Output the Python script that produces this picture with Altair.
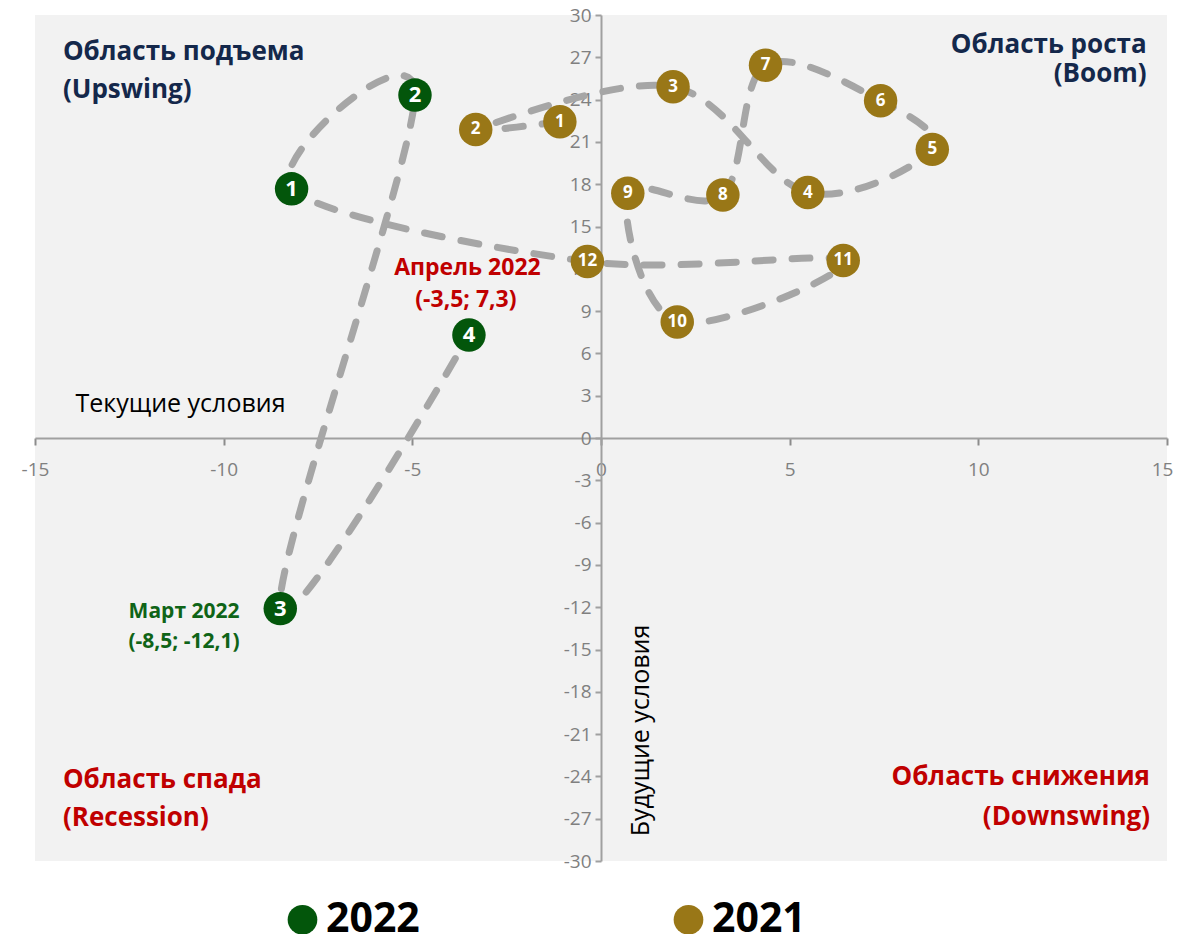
import altair as alt
import pandas as pd

# ---- data ----
months_2021 = [1, 2, 3, 4, 5, 6, 7, 8, 9, 10, 11, 12]
x_2021 = [-1.09, -3.32, 1.91, 5.48, 8.78, 7.41, 4.36, 3.23, 0.71, 2.02, 6.42, -0.36]
y_2021 = [22.43, 21.88, 24.91, 17.41, 20.47, 23.92, 26.44, 17.24, 17.36, 8.23, 12.59, 12.52]

months_2022 = [1, 2, 3, 4]
x_2022 = [-8.20, -4.93, -8.5, -3.5]
y_2022 = [17.67, 24.32, -12.1, 7.3]

x_ticks = [-15, -10, -5, 0, 5, 10, 15]
y_ticks = list(range(-30, 31, 3))

quad_text = ["Область подъема", "(Upswing)", "Область роста", "(Boom)",
             "Область спада", "(Recession)", "Область снижения", "(Downswing)"]
quad_x = [-14.26, -14.26, 14.46, 14.46, -14.26, -14.26, 14.55, 14.55]
quad_y = [27.38, 24.69, 27.86, 25.85, -24.27, -26.96, -24.04, -26.87]
quad_align = ["left", "left", "right", "right", "left", "left", "right", "right"]
quad_kind = ["up", "up", "up", "up", "down", "down", "down", "down"]

note_text = ["Апрель 2022", "(-3,5; 7,3)", "Март 2022", "(-8,5; -12,1)"]
note_x = [-3.54, -3.58, -11.05, -11.05]
note_y = [12.05, 9.81, -12.36, -14.48]
note_kind = ["apr", "apr", "mar", "mar"]

# ---- styles ----
GOLD = "#997717"
GREEN = "#03560B"
LINE = "#A6A6A6"
NAVY = "#14284B"
RED = "#C00000"
MGREEN = "#0F6417"
FONT = "Open Sans"

pts = pd.DataFrame({
    "x": x_2021 + x_2022,
    "y": y_2021 + y_2022,
    "year": ["2021"] * len(x_2021) + ["2022"] * len(x_2022),
    "label": [str(m) for m in months_2021] + [str(m) for m in months_2022],
    "seq": list(range(len(x_2021) + len(x_2022))),
})

quads = pd.DataFrame({"x": quad_x, "y": quad_y, "text": quad_text,
                      "align": quad_align, "kind": quad_kind})
quads["color"] = [NAVY if k == "up" else RED for k in quad_kind]

notes = pd.DataFrame({"x": note_x, "y": note_y, "text": note_text, "kind": note_kind})
notes["color"] = [RED if k == "apr" else MGREEN for k in note_kind]
notes["fs"] = [23 if k == "apr" else 21 for k in note_kind]

xs = alt.Scale(domain=[-15, 15], nice=False, zero=False)
ys = alt.Scale(domain=[-30, 30], nice=False, zero=False)

xaxis = alt.Axis(
    orient="bottom", offset=-423, values=x_ticks, grid=False,
    labelExpr="toString(datum.value)", labelFlush=False, labelOverlap=False,
    labelOffset={"condition": {"test": "datum.value == 15", "value": -5}, "value": 0},
    tickSize=7, tickColor="#8C8C8C", tickWidth=2,
    domainColor="#A0A0A0", domainWidth=2,
    labelColor="#808080", labelFontSize=19, labelFont=FONT, labelPadding=15,
    title="Текущие условия", titleX=145, titleY=-35, titleAlign="center",
    titleBaseline="middle", titleFontSize=25, titleFontWeight="normal",
    titleColor="#000000", titleFont=FONT,
)
yaxis = alt.Axis(
    orient="left", offset=-566, values=y_ticks, grid=False,
    labelExpr="toString(datum.value)", labelFlush=False, labelOverlap=False,
    tickSize=6, tickColor="#A0A0A0", tickWidth=2,
    domainColor="#A0A0A0", domainWidth=2,
    labelColor="#808080", labelFontSize=19, labelFont=FONT, labelPadding=4,
    title="Будущие условия", titleX=39, titleY=715, titleAngle=270,
    titleAlign="center", titleBaseline="middle", titleFontSize=25,
    titleFontWeight="normal", titleColor="#000000", titleFont=FONT,
)

X = alt.X("x:Q", scale=xs, axis=xaxis)
Y = alt.Y("y:Q", scale=ys, axis=yaxis)

line = alt.Chart(pts).mark_line(
    interpolate="cardinal", tension=0, strokeDash=[18, 19], strokeCap="round",
    strokeWidth=7, color=LINE,
).encode(x=X, y=Y, order="seq:Q")

points = alt.Chart(pts).mark_circle(size=1120, opacity=1).encode(
    x=X, y=Y,
    color=alt.Color(
        "year:N",
        scale=alt.Scale(domain=["2022", "2021"], range=[GREEN, GOLD]),
        legend=alt.Legend(
            title=None, orient="none", legendX=247, legendY=884,
            direction="horizontal", symbolType="circle", symbolSize=880,
            symbolStrokeWidth=0, symbolOpacity=1, labelFontSize=41,
            labelFont=FONT, labelFontWeight="bold", labelColor="#000000",
            columnPadding=248, labelOffset=3, padding=0,
        ),
    ),
)

num21 = alt.Chart(pts).transform_filter("datum.year == '2021'").mark_text(
    font=FONT, fontSize=17, fontWeight="bold", color="white", baseline="middle",
).encode(x=X, y=Y, text="label:N")

num22 = alt.Chart(pts).transform_filter("datum.year == '2022'").mark_text(
    font=FONT, fontSize=22, fontWeight="bold", color="white", baseline="middle",
).encode(x=X, y=Y, text="label:N")

quad_left = alt.Chart(quads).transform_filter("datum.align == 'left'").mark_text(
    font=FONT, fontSize=26, fontWeight="bold", align="left", baseline="middle",
).encode(x=X, y=Y, text="text:N", color=alt.Color("color:N", scale=None))

quad_right = alt.Chart(quads).transform_filter("datum.align == 'right'").mark_text(
    font=FONT, fontSize=26, fontWeight="bold", align="right", baseline="middle",
).encode(x=X, y=Y, text="text:N", color=alt.Color("color:N", scale=None))

note_layer = alt.Chart(notes).mark_text(
    font=FONT, fontWeight="bold", align="center", baseline="middle",
).encode(x=X, y=Y, text="text:N", color=alt.Color("color:N", scale=None),
         size=alt.Size("fs:Q", scale=None))

chart = alt.layer(
    line, points, num21, num22, quad_left, quad_right, note_layer
).properties(
    width=1132, height=846,
    autosize=alt.AutoSizeParams(type="none"),
    padding={"left": 27, "top": 7, "right": 6, "bottom": 73},
    background="white",
).configure_view(fill="#F2F2F2", stroke=None)

chart.save("out.html", embed_options={"renderer": "svg", "actions": False})
